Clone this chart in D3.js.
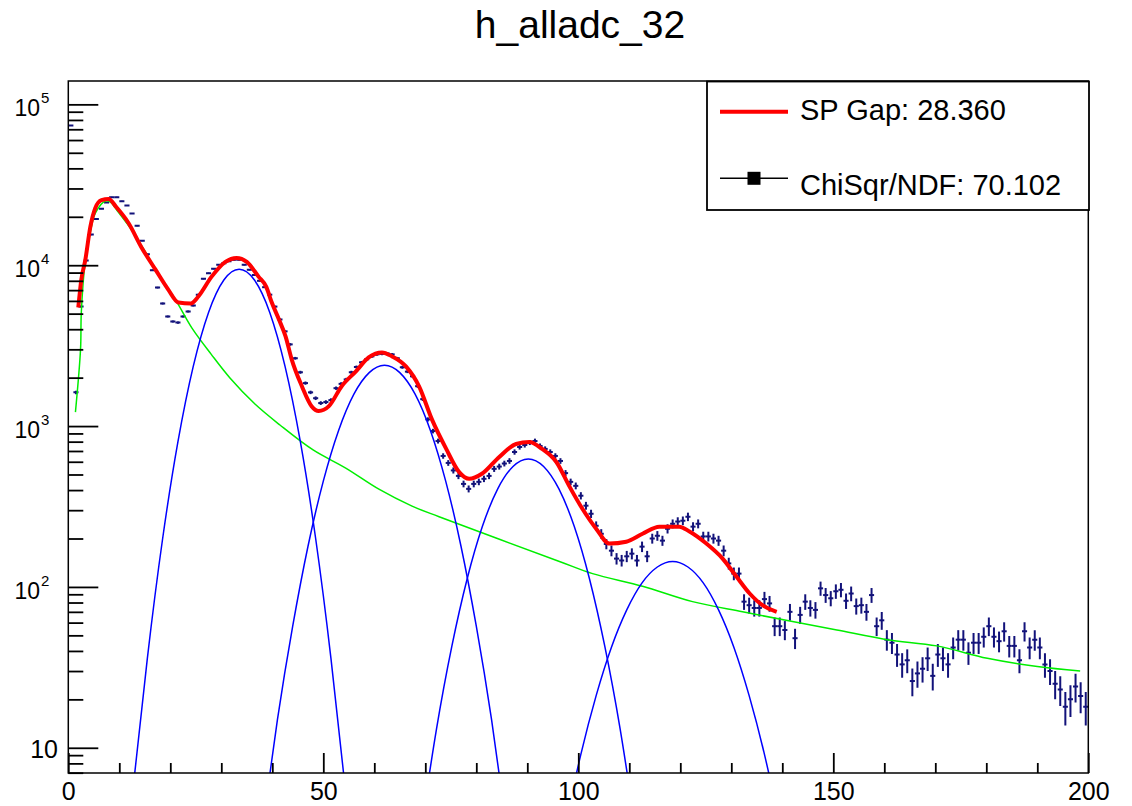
<!DOCTYPE html>
<html>
<head>
<meta charset="utf-8">
<script src="https://cdn.jsdelivr.net/npm/d3@7"></script>
<style>
  body { margin: 0; background: #fff; }
  text { font-family: "Liberation Sans", Arial, Helvetica, sans-serif; }
</style>
</head>
<body>
<script>

// histogram contents, one value per unit bin 0..199
const binCounts = [
  74000, 1620, 5530, 10700, 15500, 19400, 22400, 24500, 26500, 26500,
  25000, 23500, 21000, 17600, 14200, 11700, 9300, 7260, 5780, 4800,
  4470, 4400, 4800, 5150, 5610, 6560, 8250, 8900, 9510, 10070,
  10300, 10600, 10800, 10820, 10070, 9380, 8700, 8000, 7300, 6560,
  5530, 4600, 3880, 3220, 2640, 2160, 1850, 1620, 1490, 1390,
  1410, 1450, 1720, 1830, 1950, 2160, 2330, 2490, 2600, 2710,
  2790, 2810, 2830, 2790, 2640, 2320, 2180, 2040, 1770, 1470,
  1100, 931, 807, 652, 590, 530, 490, 437, 407, 437,
  450, 470, 490, 542, 560, 585, 607, 690, 741, 763,
  790, 807, 752, 721, 690, 652, 607, 510, 450, 425,
  369, 320, 285, 240, 214, 185, 168, 150, 146, 155,
  161, 146, 178, 155, 200, 208, 194, 230, 247, 255,
  258, 273, 237, 247, 206, 206, 200, 194, 168, 140,
  121, 121, 81, 77, 74, 74, 84, 79, 57, 57,
  54, 70, 48, 67, 81, 74, 72, 98, 89, 85,
  94, 96, 82, 91, 76, 77, 70, 89, 57, 62,
  47, 45, 38, 33, 35, 26, 29, 31, 36, 28,
  38, 36, 33, 42, 47, 47, 39, 45, 45, 49,
  57, 49, 46, 53, 43, 43, 35, 53, 42, 47,
  42, 33, 30, 25, 23, 18, 20, 24, 21, 18
];

// background curve (green)
const bgX = [1.4, 2.4, 2.55, 3.3, 4.3, 5.3, 7.3, 8.25, 9.8, 12.4, 15.1, 17.7, 21.0, 24.25, 28.0, 31.7, 36.6,
             41.5, 48.0, 54.4, 60.9, 67.4, 72.7, 96.3, 102.8, 112.6, 122.4, 132.2, 142, 150.7, 160.5, 170.3, 180.2, 190, 198.4];
const bgY = [1220, 3000, 5080, 10400, 15900, 21100, 25100, 24700, 21400, 16600, 12100, 8730, 6110, 4060, 2800, 1990, 1370,
             1015, 710, 548, 405, 318, 273, 144, 121, 101, 81, 70, 61, 54, 47, 43, 36, 32, 30];

// photoelectron peaks (blue)
const peak1X = [12.5, 15.5, 18.5, 21.5, 24.5, 27.5, 30.5, 33.5, 36.5, 39.5, 42.5, 45.5, 48.5, 51.5, 54.5];
const peak1Y = [4.9, 36, 200, 800, 2350, 5090, 8090, 9440, 8090, 5090, 2350, 800, 200, 36, 4.9];
const peak2X = [38, 41, 44, 47, 50, 53, 56, 59, 62, 65, 68, 71, 74, 77, 80, 83, 86];
const peak2Y = [3.1, 14.9, 57, 179, 455, 940, 1580, 2150, 2390, 2150, 1580, 940, 455, 179, 57, 14.9, 3.1];
const peak3X = [69.2, 72.2, 75.2, 78.2, 81.2, 84.2, 87.2, 90.2, 93.2, 96.2, 99.2, 102.2, 105.2, 108.2, 111.2];
const peak3Y = [3.2, 13.1, 42.7, 112, 238, 407, 561, 625, 561, 407, 238, 112, 42.7, 13.1, 3.2];
const peak4X = [97.5, 100.5, 103.5, 106.5, 109.5, 112.5, 115.5, 118.5, 121.5, 124.5, 127.5, 130.5, 133.5, 136.5, 139.5];
const peak4Y = [3.4, 9.1, 21.1, 42.2, 72, 106, 133, 144, 133, 106, 72, 42.2, 21.1, 9.1, 3.4];

// total fit (red)
const fitX = [1.96, 2.55, 3.34, 4.32, 5.3, 6.5, 7.9, 9.4, 11.8, 14.3, 17.1, 19.6, 21.6, 24.0, 25.5, 28.1, 30.8, 33.0,
              35.0, 37.3, 38.8, 39.9, 41.3, 42.6, 43.8, 45.8, 47.7, 49.1, 51.1, 53.6, 56.4, 58.9, 61.5, 63.5, 66.2,
              68.8, 71.3, 74.1, 76.6, 78.6, 81.1, 84.5, 87.8, 90.4, 92.9, 95.7, 98.2, 100.8, 103.5, 106.1, 109.4,
              112.6, 115.9, 119.8, 121.8, 125.1, 128.3, 131.0, 133.6, 136.1, 138.9];
const fitY = [5460, 8130, 10800, 17300, 22700, 25400, 25800, 23000, 18300, 13000, 9380, 7050, 5860, 5780, 6390, 8490, 10500, 11100,
              10500, 8490, 7360, 5860, 4600, 3610, 2600, 1770, 1330, 1240, 1330, 1770, 2190, 2670, 2870, 2710, 2350,
              1760, 1100, 721, 519, 470, 505, 643, 774, 796, 721, 598, 425, 306, 230, 186, 191,
              214, 237, 237, 221, 186, 150, 116, 91, 77, 70];

const xMajor = [0, 50, 100, 150, 200];
const xMinor = [10, 20, 30, 40, 60, 70, 80, 90, 110, 120, 130, 140, 160, 170, 180, 190];
const yDecades = [1, 2, 3, 4, 5];

const titleText = 'h_alladc_32';
const legendLabels = ['SP Gap: 28.360', 'ChiSqr/NDF: 70.102'];

let svg = d3.select('body').append('svg')
            .attr('width', 1132)
            .attr('height', 806);

let x = d3.scaleLinear().domain([0, 200]).range([68.3, 1088.3]);
let y = d3.scaleLog().domain([6.97, 139700]).range([773, 81]);

svg.append('clipPath').attr('id', 'frame-clip')
   .append('rect')
   .attr('x', x(0)).attr('y', y.range()[1])
   .attr('width', x(200) - x(0)).attr('height', y.range()[0] - y.range()[1]);

let plot = svg.append('g').attr('clip-path', 'url(#frame-clip)');

// data points with error bars
let bins = binCounts.map((c, i) => ({lo: i, hi: i + 1, c: c, e: Math.sqrt(c)}));

let pts = plot.append('g').attr('stroke', '#12127a').attr('stroke-width', 2);
pts.selectAll('line.h').data(bins).enter().append('line')
   .classed('h', true)
   .attr('x1', d => x(d.lo)).attr('x2', d => x(d.hi))
   .attr('y1', d => y(d.c)).attr('y2', d => y(d.c));
pts.selectAll('line.v').data(bins).enter().append('line')
   .classed('v', true)
   .attr('x1', d => x((d.lo + d.hi) / 2)).attr('x2', d => x((d.lo + d.hi) / 2))
   .attr('y1', d => y(d.c + d.e)).attr('y2', d => y(Math.max(d.c - d.e, 1)));

let zip = (xs, ys) => xs.map((v, i) => [v, ys[i]]);

let smooth = d3.line().x(d => x(d[0])).y(d => y(d[1])).curve(d3.curveMonotoneX);
let gauss = d3.line().x(d => x(d[0])).y(d => y(d[1])).curve(d3.curveNatural);

plot.append('path')
    .attr('d', d3.line().x(d => x(d[0])).y(d => y(d[1])).curve(d3.curveCatmullRom)(zip(bgX, bgY)))
    .attr('fill', 'none').attr('stroke', '#00ee00').attr('stroke-width', 1.5);

[[peak1X, peak1Y], [peak2X, peak2Y], [peak3X, peak3Y], [peak4X, peak4Y]].forEach(function (p) {
    plot.append('path')
        .attr('d', gauss(zip(p[0], p[1])))
        .attr('fill', 'none').attr('stroke', '#0000ff').attr('stroke-width', 1.5);
});

plot.append('path')
    .attr('d', smooth(zip(fitX, fitY)))
    .attr('fill', 'none').attr('stroke', '#ff0000').attr('stroke-width', 4)
    .attr('stroke-linejoin', 'round');

// frame
svg.append('rect')
   .attr('x', x(0)).attr('y', y.range()[1])
   .attr('width', x(200) - x(0)).attr('height', y.range()[0] - y.range()[1])
   .attr('fill', 'none').attr('stroke', '#000').attr('stroke-width', 1.5);

// x axis, ticks drawn inward
let xAxisMajor = d3.axisBottom(x).tickValues(xMajor).tickSizeInner(-20).tickSizeOuter(0).tickPadding(9);
let xAxisMinor = d3.axisBottom(x).tickValues(xMinor).tickSizeInner(-10).tickSizeOuter(0).tickFormat('');

let gx = svg.append('g').attr('transform', 'translate(0,' + y.range()[0] + ')');
gx.call(xAxisMajor);
gx.append('g').call(xAxisMinor);
gx.selectAll('.domain').remove();
gx.selectAll('line').attr('stroke', '#000').attr('stroke-width', 1.8);
gx.selectAll('text').attr('font-size', 25).attr('fill', '#000')
  .style('font-family', '"Liberation Sans", Arial, sans-serif');

// y axis, log
let yMinor = [];
for (let d = 0; d <= 5; d++) {
    for (let m = 2; m <= 9; m++) {
        let v = m * Math.pow(10, d);
        if (v > y.domain()[0] && v < y.domain()[1]) yMinor.push(v);
    }
}
let yAxisMajor = d3.axisLeft(y).tickValues(yDecades.map(d => Math.pow(10, d))).tickSizeInner(-30).tickSizeOuter(0).tickFormat('');
let yAxisMinor = d3.axisLeft(y).tickValues(yMinor).tickSizeInner(-15).tickSizeOuter(0).tickFormat('');

let gy = svg.append('g').attr('transform', 'translate(' + x(0) + ',0)');
gy.call(yAxisMajor);
gy.append('g').call(yAxisMinor);
gy.selectAll('.domain').remove();
gy.selectAll('line').attr('stroke', '#000').attr('stroke-width', 1.8);

let ylab = svg.append('g');
yDecades.forEach(function (d) {
    let ty = y(Math.pow(10, d));
    if (d === 1) {
        ylab.append('text')
            .attr('x', 58).attr('y', ty + 10.6)
            .attr('text-anchor', 'end').attr('font-size', 25)
            .text('10');
    } else {
        ylab.append('text')
            .attr('x', 40).attr('y', ty + 12)
            .attr('text-anchor', 'end')
            .attr('font-size', 23)
            .text('10');
        ylab.append('text')
            .attr('x', 41).attr('y', ty - 1)
            .attr('font-size', 15)
            .text(d);
    }
});

// title
svg.append('text')
   .attr('x', 580).attr('y', 38)
   .attr('text-anchor', 'middle')
   .attr('font-size', 39)
   .text(titleText);

// legend
let leg = svg.append('g');
leg.append('rect')
   .attr('x', 707).attr('y', 81.5).attr('width', 382).attr('height', 128.5)
   .attr('fill', '#fff').attr('stroke', '#000').attr('stroke-width', 1.8);

leg.append('line')
   .attr('x1', 720).attr('x2', 788).attr('y1', 111.7).attr('y2', 111.7)
   .attr('stroke', '#ff0000').attr('stroke-width', 4);
leg.append('text')
   .attr('x', 800).attr('y', 120).attr('font-size', 29)
   .text(legendLabels[0]);

leg.append('line')
   .attr('x1', 720).attr('x2', 788).attr('y1', 178.3).attr('y2', 178.3)
   .attr('stroke', '#000').attr('stroke-width', 1.5);
leg.append('rect')
   .attr('x', 747.5).attr('y', 171.8).attr('width', 13).attr('height', 13)
   .attr('fill', '#000');
leg.append('text')
   .attr('x', 800).attr('y', 195).attr('font-size', 29)
   .text(legendLabels[1]);

</script>
</body>
</html>
